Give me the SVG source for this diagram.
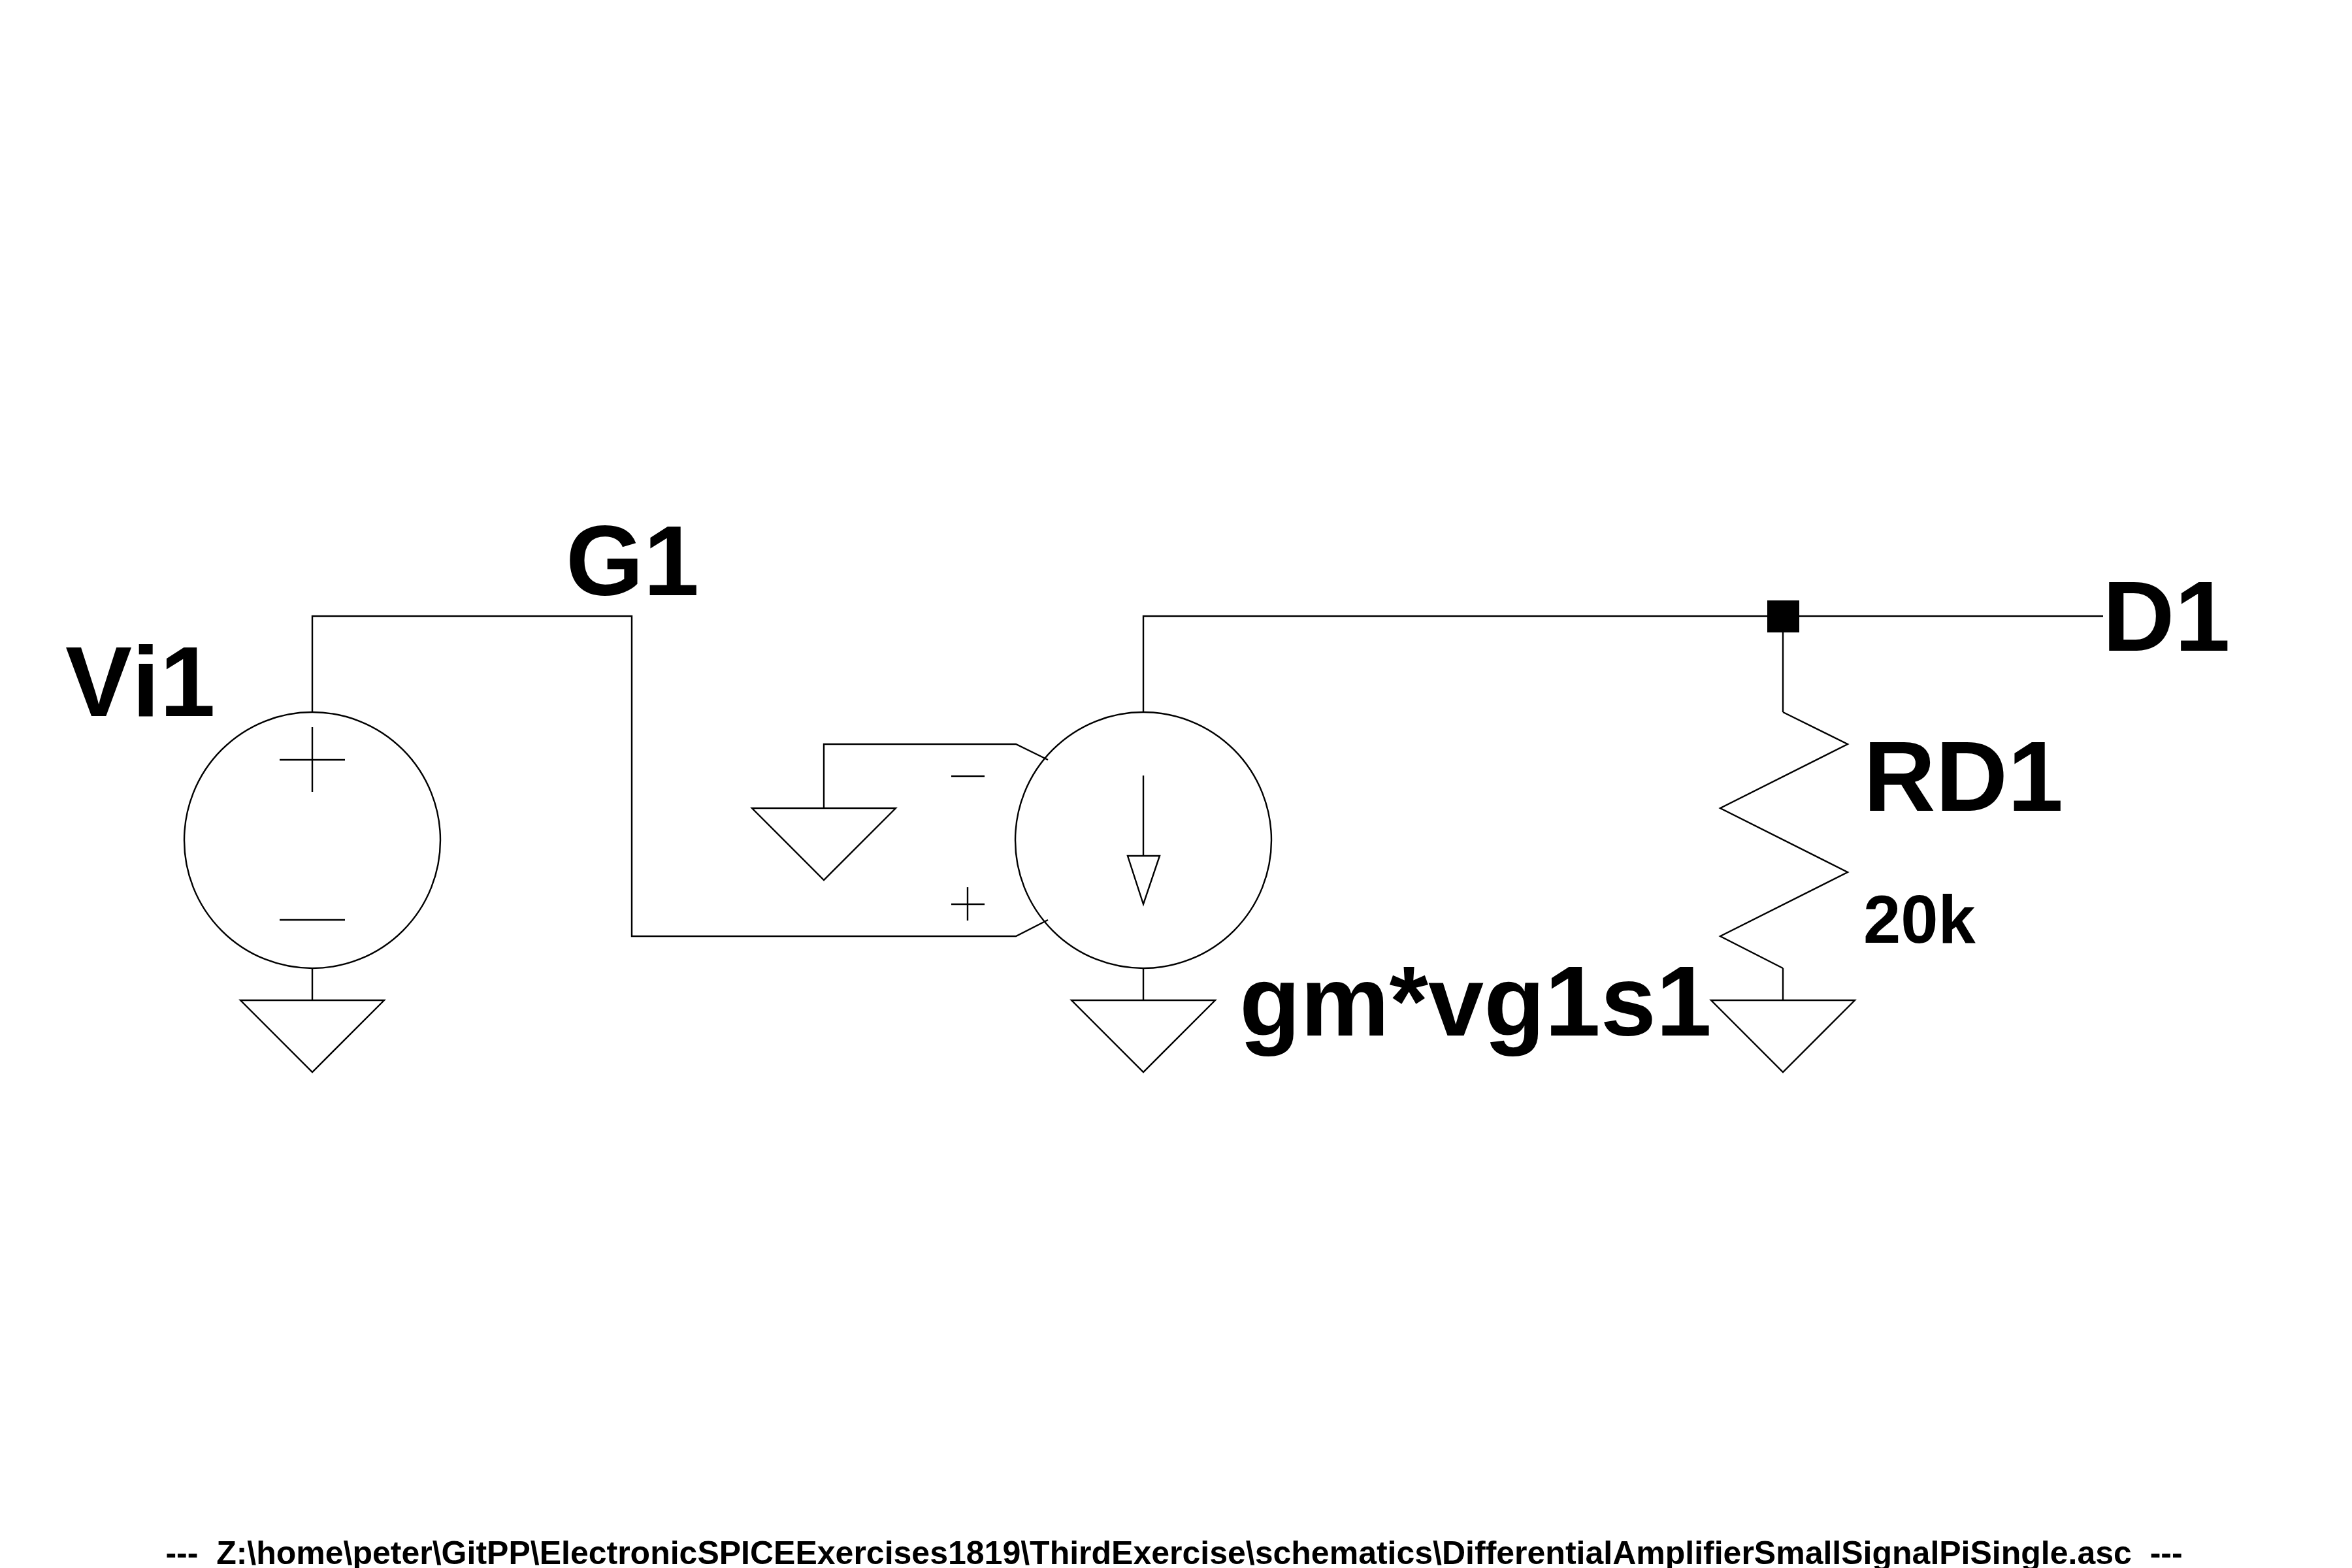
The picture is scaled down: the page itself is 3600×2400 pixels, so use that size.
<svg xmlns="http://www.w3.org/2000/svg" width="3600" height="2400" viewBox="0 0 3600 2400">
<style>
.w{fill:none;stroke:#000;stroke-width:2.4}
.t{font-family:"Liberation Sans",Arial,sans-serif;font-weight:700;fill:#000;white-space:pre;font-kerning:none}
.l{font-size:153px}
.v{font-size:103px}
.f{font-size:50px}
</style>
<defs>
<path id="gnd" class="w" d="M-110 0H110L0 110Z"/>
</defs>
<rect width="3600" height="2400" fill="#fff"/>
<g id="connectors">
<path class="w" d="M478 1090V943H967V1433H1555L1604 1408"/>
<path class="w" d="M1750 1090V943H3219"/>
<path class="w" d="M478 1482V1531"/>
<path class="w" d="M1750 1482V1531"/>
<path class="w" d="M1261 1237V1139H1555L1604 1163"/>
<path class="w" d="M2729 943V1090"/>
<path class="w" d="M2729 1482V1531"/>
</g>
<g id="Vi1">
<circle class="w" cx="478" cy="1286" r="196"/>
<path class="w" d="M428 1163H528M478 1113V1212M428 1408H528"/>
<text class="t l" x="100" y="1096">Vi1</text>
</g>
<g id="gnd1"><use href="#gnd" x="478" y="1531"/></g>
<g id="gm">
<circle class="w" cx="1750" cy="1286" r="196"/>
<path class="w" d="M1750 1187V1310M1726 1310H1775L1750 1384Z"/>
<path class="w" d="M1456 1188H1507M1456 1384H1507M1481 1358V1409"/>
<text class="t l" x="1897" y="1585">gm*vg1s1</text>
</g>
<g id="gnd2"><use href="#gnd" x="1261" y="1237"/></g>
<g id="gnd3"><use href="#gnd" x="1750" y="1531"/></g>
<g id="RD1">
<path class="w" d="M2729 1090L2828 1139L2633 1237L2828 1335L2633 1433L2729 1482"/>
<text class="t l" x="2852" y="1241">RD1</text>
<text class="t v" x="2852" y="1443">20k</text>
</g>
<g id="gnd4"><use href="#gnd" x="2729" y="1531"/></g>
<g id="junction"><rect x="2705" y="919" width="49" height="49"/></g>
<g id="netG1"><text class="t l" x="866" y="911">G1</text></g>
<g id="netD1"><text class="t l" x="3218" y="996">D1</text></g>
<text class="t f" x="1797" y="2394" text-anchor="middle">---  Z:\home\peter\GitPP\ElectronicSPICEExercises1819\ThirdExercise\schematics\DifferentialAmplifierSmallSignalPiSingle.asc  ---</text>
</svg>
